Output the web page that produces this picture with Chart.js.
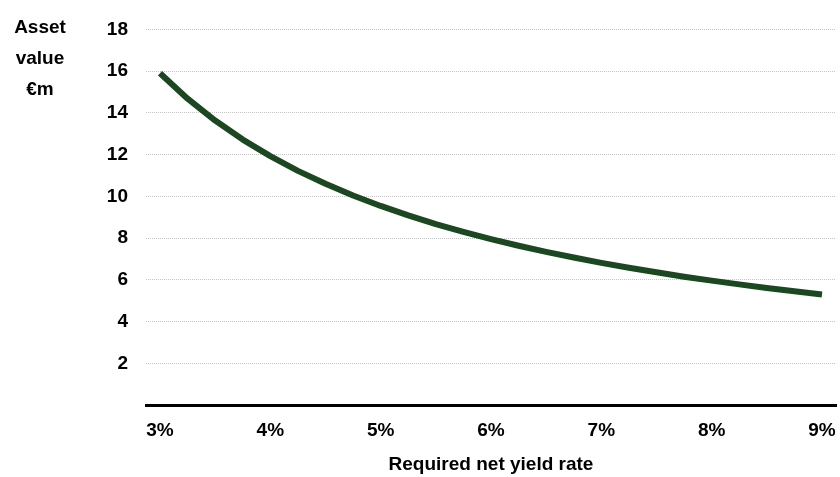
<!DOCTYPE html>
<html>
<head>
<meta charset="utf-8">
<script src="https://cdn.jsdelivr.net/npm/chart.js@4"></script>
<style>
  html, body { margin: 0; padding: 0; background: #fff; }
  #wrap { width: 840px; height: 477px; }
</style>
</head>
<body>
<div id="wrap"><canvas id="yieldchart"></canvas></div>
<script>
// yield rate (%) and asset value (EUR m)
var yieldRate = [3.00, 3.25, 3.50, 3.75, 4.00, 4.25, 4.50, 4.75, 5.00, 5.25, 5.50, 5.75,
                 6.00, 6.25, 6.50, 6.75, 7.00, 7.25, 7.50, 7.75, 8.00, 8.25, 8.50, 8.75, 9.00];
var assetValue = [15.90, 14.68, 13.63, 12.72, 11.93, 11.22, 10.60, 10.04, 9.54, 9.09, 8.67, 8.30,
                  7.95, 7.63, 7.34, 7.07, 6.81, 6.58, 6.36, 6.15, 5.96, 5.78, 5.61, 5.45, 5.30];
var xTicks = [3, 4, 5, 6, 7, 8, 9];
var yTitle = ["Asset", "value", "€m"];
var xTitle = "Required net yield rate";

var font = "'Liberation Sans', Arial, sans-serif";

var points = [];
for (var i = 0; i < yieldRate.length; i++) {
    points.push({x: yieldRate[i], y: assetValue[i]});
}

// the y axis title sits flat in the top left corner
var cornerTitle = {
    id: 'cornerTitle',
    afterDraw: function(chart) {
        var ctx = chart.ctx;
        ctx.save();
        ctx.fillStyle = '#000';
        ctx.font = 'bold 19px ' + font;
        ctx.textAlign = 'center';
        ctx.textBaseline = 'middle';
        for (var i = 0; i < yTitle.length; i++) {
            ctx.fillText(yTitle[i], 40, 28 + i * 31);
        }
        ctx.restore();
    }
};

var myChart = new Chart(document.getElementById("yieldchart").getContext("2d"), {
    type: 'line',
    data: {
        datasets: [{
            data: points,
            borderColor: '#1b4721',
            borderWidth: 6,
            pointRadius: 0,
            tension: 0,
            borderCapStyle: 'butt',
            borderJoinStyle: 'round'
        }]
    },
    options: {
        responsive: true,
        maintainAspectRatio: false,
        animation: false,
        layout: { padding: { top: 28, right: 4, left: 0, bottom: 0 } },
        plugins: {
            legend: { display: false },
            tooltip: { enabled: false }
        },
        scales: {
            x: {
                type: 'linear',
                min: 2.873,
                max: 9.127,
                afterBuildTicks: function(axis) {
                    axis.ticks = xTicks.map(function(v) { return {value: v}; });
                },
                afterFit: function(axis) {
                    axis.height = 72;
                    axis.paddingLeft = 0;
                    axis.paddingRight = 0;
                },
                grid: { display: false, drawTicks: false },
                border: { display: true, color: '#000', width: 3 },
                ticks: {
                    color: '#000',
                    padding: 14,
                    maxRotation: 0,
                    font: { family: font, size: 19, weight: 'bold' },
                    callback: function(v) { return v + '%'; }
                },
                title: {
                    display: true,
                    text: xTitle,
                    color: '#000',
                    font: { family: font, size: 19, weight: 'bold' },
                    padding: { top: 0, bottom: 1 }
                }
            },
            y: {
                min: 0,
                max: 18,
                afterFit: function(axis) { axis.width = 146; },
                grid: {
                    drawTicks: false,
                    color: function(c) { return c.tick.value === 0 ? 'rgba(0,0,0,0)' : '#c4c4c4'; },
                    lineWidth: 1
                },
                border: { display: false, dash: [1, 1] },
                ticks: {
                    stepSize: 2,
                    color: '#000',
                    padding: 18,
                    font: { family: font, size: 19, weight: 'bold' },
                    callback: function(v) { return v === 0 ? '' : v; }
                }
            }
        }
    },
    plugins: [cornerTitle]
});
</script>
</body>
</html>
